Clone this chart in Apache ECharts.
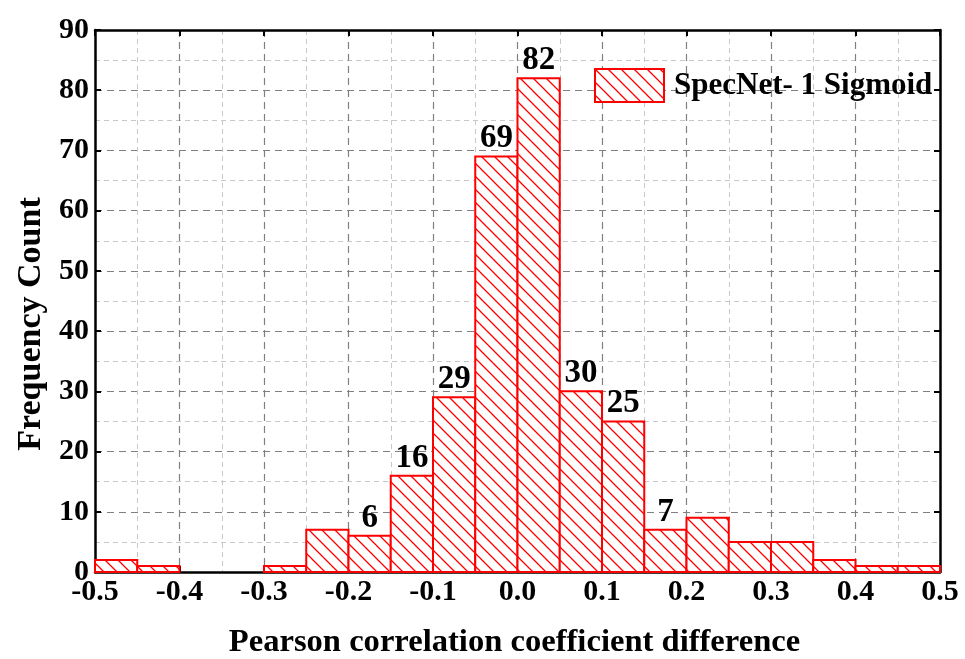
<!DOCTYPE html>
<html><head><meta charset="utf-8">
<script src="https://cdn.jsdelivr.net/npm/echarts@6/dist/echarts.min.js"></script>
<style>html,body{margin:0;padding:0;background:#fff}#c{width:965px;height:659px}</style>
</head><body><div id="c"></div>
<script>
const binStarts = [-0.5,-0.45,-0.4,-0.35,-0.3,-0.25,-0.2,-0.15,-0.1,-0.05,0,0.05,0.1,0.15,0.2,0.25,0.3,0.35,0.4,0.45];
const binWidth = 0.05;
const counts = [2,1,0,0,1,7,6,16,29,69,82,30,25,7,9,5,5,2,1,1];
const labeled = [false,false,false,false,false,false,true,true,true,true,true,true,true,true,false,false,false,false,false,false];
const seriesName = 'SpecNet- 1 Sigmoid';
const xTitle = 'Pearson correlation coefficient difference';
const yTitle = 'Frequency Count';

const FONT = '"Liberation Serif", "Times New Roman", serif';
function makePattern(){
  const s = 13, c = document.createElement('canvas');
  c.width = s; c.height = s;
  const g = c.getContext('2d');
  g.fillStyle = '#fff'; g.fillRect(0,0,s,s);
  g.strokeStyle = '#ff0000'; g.lineWidth = 1.3;
  g.beginPath();
  g.moveTo(-2,-2); g.lineTo(s+2,s+2);
  g.moveTo(-2,s-2); g.lineTo(2,s+2);
  g.moveTo(s-2,-2); g.lineTo(s+2,2);
  g.stroke();
  return c;
}
const pattern = {image: makePattern(), repeat: 'repeat'};
const data = binStarts.map((b,i)=>[b, b+binWidth, counts[i], labeled[i]?1:0]);

const chart = echarts.init(document.getElementById('c'));
const gridLine = {show:true, lineStyle:{color:'#808080', type:[7,5], width:1.2}};
const minorLine = {show:true, lineStyle:{color:'#c8c8c8', type:[5,4], width:1}};
const frameLine = {show:true, onZero:false, lineStyle:{color:'#000', width:2.5}};
const tick = {show:true, inside:true, length:6, lineStyle:{color:'#000', width:2}};
chart.setOption({
  animation:false,
  grid:{left:95, right:25, top:30, bottom:87, containLabel:false, outerBoundsMode:'none'},
  legend:{
    show:true, left:589, top:63, itemWidth:69, itemHeight:33,
    icon:'rect',
    textStyle:{fontFamily:FONT, fontWeight:'bold', fontSize:31, color:'#000', padding:[0,0,0,5]},
    data:[seriesName]
  },
  xAxis:[{
    type:'value', min:-0.5, max:0.5, interval:0.1,
    name:xTitle, nameLocation:'middle', nameGap:54,
    nameTextStyle:{fontFamily:FONT, fontWeight:'bold', fontSize:32.6, color:'#000', padding:[0,6,0,0]},
    axisLine:frameLine, axisTick:tick,
    axisLabel:{fontFamily:FONT, fontWeight:'bold', fontSize:30, color:'#000', margin:5,
      formatter:v=>v.toFixed(1)},
    splitLine:gridLine,
    minorTick:{show:false, splitNumber:2},
    minorSplitLine:minorLine
  },{
    type:'value', min:-0.5, max:0.5, interval:0.1, position:'top',
    axisLine:frameLine, axisTick:tick,
    axisLabel:{show:false}, splitLine:{show:false}
  }],
  yAxis:[{
    type:'value', min:0, max:90, interval:10,
    name:yTitle, nameLocation:'middle', nameGap:47,
    nameTextStyle:{fontFamily:FONT, fontWeight:'bold', fontSize:34, color:'#000', padding:[0,46,0,0]},
    axisLine:frameLine, axisTick:tick,
    axisLabel:{fontFamily:FONT, fontWeight:'bold', fontSize:30, color:'#000', margin:6},
    splitLine:gridLine,
    minorTick:{show:false, splitNumber:2},
    minorSplitLine:minorLine
  },{
    type:'value', min:0, max:90, interval:10, position:'right',
    axisLine:frameLine, axisTick:tick,
    axisLabel:{show:false}, splitLine:{show:false}
  }],
  series:[{
    name:seriesName, type:'custom', xAxisIndex:0, yAxisIndex:0,
    itemStyle:{color:pattern, borderColor:'#ff0000', borderWidth:2},
    encode:{x:[0,1], y:2},
    data:data,
    renderItem:function(params, api){
      const x0 = api.value(0), x1 = api.value(1), v = api.value(2), lab = api.value(3);
      if (v <= 0) return null;
      const p0 = api.coord([x0, v]), p1 = api.coord([x1, 0]);
      const children = [{
        type:'rect',
        shape:{x:p0[0], y:p0[1], width:p1[0]-p0[0], height:p1[1]-p0[1]},
        style:{fill:pattern, stroke:'#ff0000', lineWidth:2}
      }];
      if (lab) {
        children.push({
          type:'text',
          style:{text:String(v), x:(p0[0]+p1[0])/2, y:p0[1]-1, align:'center', verticalAlign:'bottom',
            font:'bold 33px '+FONT, fill:'#000'}
        });
      }
      return {type:'group', children:children};
    }
  }]
});
</script></body></html>
